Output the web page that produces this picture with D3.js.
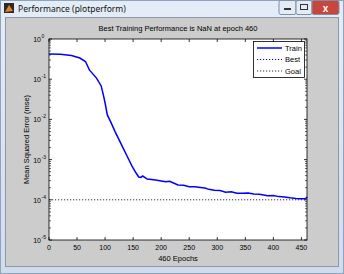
<!DOCTYPE html>
<html><head><meta charset="utf-8">
<script src="https://cdn.jsdelivr.net/npm/d3@7"></script>
<style>html,body{margin:0;padding:0;background:#d6e2f0;}svg{display:block;}</style>
</head><body>
<script>
// ---- data ----
const epochs = [0,20,40,55,65,72,85,93,97,100,104,110,118,125,132,140,148,155,160,164,167,172,175,183,190,200,208,215,222,230,240,250,260,270,278,285,295,305,315,325,335,345,355,365,375,390,400,410,420,430,440,448,456,458,460];
const trainMse = [0.424,0.42,0.39,0.336,0.275,0.17,0.105,0.068,0.040,0.0256,0.0129,0.0087,0.0049,0.0031,0.00195,0.00116,0.00069,0.00047,0.00037,0.00036,0.00039,0.00035,0.00033,0.00032,0.00031,0.000295,0.00028,0.00029,0.000262,0.000234,0.00023,0.000212,0.00021,0.000203,0.000196,0.000182,0.000173,0.00017,0.000155,0.000158,0.000146,0.000145,0.000148,0.000139,0.000137,0.000126,0.000128,0.00012,0.000118,0.000112,0.000108,0.000106,0.000106,0.000108,0.000118];
const goalValue = 1e-4;
const xTicks = [0,50,100,150,200,250,300,350,400,450];
const yTickExps = [0,-1,-2,-3,-4,-5];
const legendItems = ["Train","Best","Goal"];
const titleText = "Best Training Performance is NaN at epoch 460";
const xLabel = "460 Epochs";
const yLabel = "Mean Squared Error  (mse)";
const windowTitle = "Performance (plotperform)";

const W=344,H=274;
const svg=d3.select("body").append("svg").attr("width",W).attr("height",H);
const font="Liberation Sans, Arial, sans-serif";

// window chrome
const tb=svg.append("defs").append("linearGradient").attr("id","tb").attr("x1",0).attr("y1",0).attr("x2",0).attr("y2",1);
tb.append("stop").attr("offset","0").attr("stop-color","#e4edf7");
tb.append("stop").attr("offset","1").attr("stop-color","#cfdcec");
svg.append("rect").attr("x",0).attr("y",0).attr("width",W).attr("height",H).attr("fill","url(#tb)");
svg.append("rect").attr("x",0.5).attr("y",0.5).attr("width",W-1).attr("height",H-1).attr("fill","none").attr("stroke","#8fa3bd");
// icon
svg.append("rect").attr("x",4).attr("y",3).attr("width",10).attr("height",10).attr("fill","#2a2a2a");
svg.append("path").attr("d","M5,12 L9,5 L13,11 Z").attr("fill","#e8822a");
svg.append("text").attr("x",18).attr("y",12).attr("font-family","Noto Sans, sans-serif").attr("font-size",8.5).attr("fill","#111").text(windowTitle);
// buttons
function btn(x,w,fill){svg.append("rect").attr("x",x).attr("y",0.5).attr("width",w).attr("height",14).attr("rx",2).attr("fill",fill).attr("stroke","#7d8ea5");}
btn(279,17,"#e3ebf5");btn(296,16,"#e3ebf5");btn(312,27,"#c9463d");
svg.append("rect").attr("x",284).attr("y",8).attr("width",7).attr("height",2).attr("fill","#333");
svg.append("rect").attr("x",300.5).attr("y",4.5).attr("width",7).attr("height",5).attr("fill","none").attr("stroke","#333");
svg.append("text").attr("x",325.5).attr("y",11.5).attr("text-anchor","middle").attr("font-family",font).attr("font-size",10).attr("font-weight","bold").attr("fill","#fff").text("x");
// figure area
svg.append("rect").attr("x",5.5).attr("y",17.5).attr("width",333).attr("height",249).attr("fill","#cccccc").attr("stroke","#8d99a8");

// axes
const L=49,R=307,T=39,B=240;
const x=d3.scaleLinear().domain([0,460]).range([L,R]);
const y=d3.scaleLog().domain([1e-5,1]).range([B,T]);
svg.append("rect").attr("x",L).attr("y",T).attr("width",R-L).attr("height",B-T).attr("fill","#fff");

const g=svg.append("g");
// ticks
xTicks.forEach(t=>{
  g.append("line").attr("x1",x(t)).attr("x2",x(t)).attr("y1",B).attr("y2",B-3).attr("stroke","#000").attr("stroke-width",0.8);
  g.append("line").attr("x1",x(t)).attr("x2",x(t)).attr("y1",T).attr("y2",T+3).attr("stroke","#000").attr("stroke-width",0.8);
  g.append("text").attr("x",x(t)).attr("y",B+10).attr("text-anchor","middle").attr("font-family",font).attr("font-size",7).text(t);
});
yTickExps.forEach(e=>{
  const yy=y(Math.pow(10,e));
  g.append("line").attr("x1",L).attr("x2",L+3).attr("y1",yy).attr("y2",yy).attr("stroke","#000").attr("stroke-width",0.8);
  g.append("line").attr("x1",R).attr("x2",R-3).attr("y1",yy).attr("y2",yy).attr("stroke","#000").attr("stroke-width",0.8);
  const t=g.append("text").attr("x",41).attr("y",yy+3).attr("text-anchor","end").attr("font-family",font).attr("font-size",7).text("10");
  g.append("text").attr("x",41.5).attr("y",yy-1).attr("font-family",font).attr("font-size",5).text(e);
  if(e>-5){
    for(let m=2;m<=9;m++){
      const ym=y(m*Math.pow(10,e-1));
      g.append("line").attr("x1",L).attr("x2",L+2).attr("y1",ym).attr("y2",ym).attr("stroke","#000").attr("stroke-width",0.6);
      g.append("line").attr("x1",R).attr("x2",R-2).attr("y1",ym).attr("y2",ym).attr("stroke","#000").attr("stroke-width",0.6);
    }
  }
});
// goal
g.append("line").attr("x1",L).attr("x2",R).attr("y1",y(goalValue)).attr("y2",y(goalValue)).attr("stroke","#333").attr("stroke-width",1).attr("stroke-dasharray","1.2,1.8");
// train
const line=d3.line().x((d,i)=>x(epochs[i])).y(d=>y(d));
g.append("path").datum(trainMse).attr("d",line).attr("fill","none").attr("stroke","#0000ff").attr("stroke-width",1.5);
// frame
g.append("rect").attr("x",L).attr("y",T).attr("width",R-L).attr("height",B-T).attr("fill","none").attr("stroke","#000").attr("stroke-width",0.8);

// labels
svg.append("text").attr("x",(L+R)/2).attr("y",31).attr("text-anchor","middle").attr("font-family",font).attr("font-size",7.5).text(titleText);
svg.append("text").attr("x",(L+R)/2).attr("y",261).attr("text-anchor","middle").attr("font-family",font).attr("font-size",7.5).text(xLabel);
svg.append("text").attr("transform",`translate(29,${(T+B)/2}) rotate(-90)`).attr("text-anchor","middle").attr("font-family",font).attr("font-size",7.5).text(yLabel);

// legend
const lg=svg.append("g");
lg.append("rect").attr("x",253.5).attr("y",41.5).attr("width",51).attr("height",36).attr("fill","#fff").attr("stroke","#000").attr("stroke-width",0.8);
const styles=[{c:"#0000ff",d:null,w:1.5},{c:"#0000ff",d:"1.2,1.8",w:1},{c:"#333",d:"1.2,1.8",w:1}];
legendItems.forEach((s,i)=>{
  const yy=48+i*11.5;
  lg.append("line").attr("x1",257).attr("x2",282).attr("y1",yy).attr("y2",yy).attr("stroke",styles[i].c).attr("stroke-width",styles[i].w).attr("stroke-dasharray",styles[i].d);
  lg.append("text").attr("x",285).attr("y",yy+2.6).attr("font-family",font).attr("font-size",7.5).text(s);
});
</script>
</body></html>
